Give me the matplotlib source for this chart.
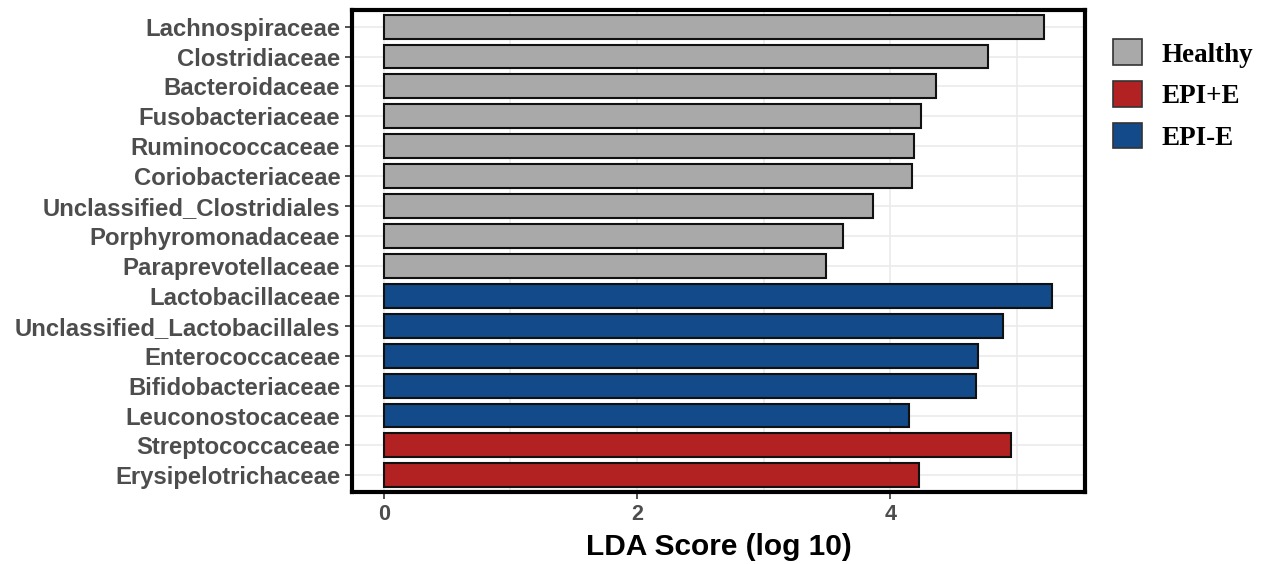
import matplotlib.pyplot as plt
from matplotlib.patches import Patch

# LDA scores (top to bottom)
taxa = ["Lachnospiraceae", "Clostridiaceae", "Bacteroidaceae", "Fusobacteriaceae",
        "Ruminococcaceae", "Coriobacteriaceae", "Unclassified_Clostridiales",
        "Porphyromonadaceae", "Paraprevotellaceae", "Lactobacillaceae",
        "Unclassified_Lactobacillales", "Enterococcaceae", "Bifidobacteriaceae",
        "Leuconostocaceae", "Streptococcaceae", "Erysipelotrichaceae"]
lda = [5.21, 4.77, 4.36, 4.24, 4.19, 4.17, 3.86, 3.63, 3.49,
       5.28, 4.89, 4.69, 4.68, 4.15, 4.95, 4.23]
group = ["Healthy"] * 9 + ["EPI-E"] * 5 + ["EPI+E"] * 2

colors = {"Healthy": "#a9a9a9", "EPI+E": "#b22222", "EPI-E": "#124a8a"}
legend_order = ["Healthy", "EPI+E", "EPI-E"]

fig = plt.figure(figsize=(12.62, 5.64), dpi=100)
ax = fig.add_axes([0.279, 0.128, 0.581, 0.854])

ypos = list(range(len(taxa)))[::-1]
ax.barh(ypos, lda, height=0.8, color=[colors[g] for g in group],
        edgecolor="#111111", linewidth=1.5, zorder=3)

ax.set_ylim(-0.55, len(taxa) - 0.45)
ax.set_xlim(-0.25, 5.54)
ax.set_yticks(ypos)
ax.set_yticklabels(taxa, fontsize=17.2, fontweight="bold", color="#4d4d4d",
                   family="Liberation Sans")
ax.set_xticks([0, 2, 4])
ax.set_xticklabels(["0", "2", "4"], fontsize=15.5, fontweight="bold", color="#4d4d4d",
                   family="Liberation Sans")
ax.set_xticks([1, 3, 5], minor=True)
ax.tick_params(axis="both", which="major", length=5, width=1.2, color="#333333")
ax.tick_params(axis="x", which="minor", length=0)
ax.grid(True, which="both", color="#ebebeb", linewidth=1.2, zorder=0)
ax.set_axisbelow(True)
for s in ax.spines.values():
    s.set_linewidth(3)
    s.set_color("black")

ax.set_xlabel("LDA Score (log 10)", fontsize=21.5, fontweight="bold",
              family="Liberation Sans", labelpad=6)

handles = [Patch(facecolor=colors[g], edgecolor="#333333", linewidth=1.2, label=g)
           for g in legend_order]
fig.legend(handles=handles, loc="upper left", bbox_to_anchor=(0.882, 0.93),
           frameon=False, prop={"family": "Liberation Serif", "weight": "bold", "size": 19.5},
           handlelength=1.08, handleheight=1.08, handletextpad=0.7, labelspacing=0.5,
           borderpad=0, borderaxespad=0)

fig.savefig("out.png", dpi=100)
